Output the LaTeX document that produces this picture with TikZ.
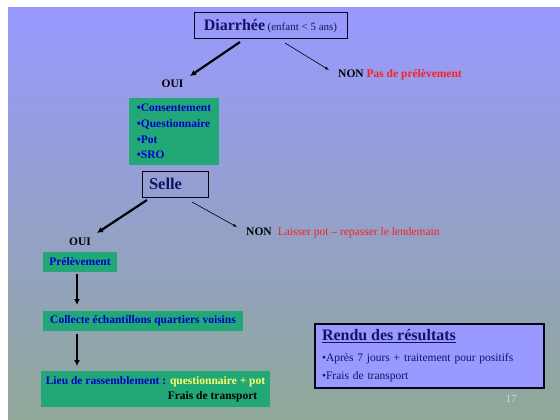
\documentclass[tikz,border=0pt]{standalone}
\usepackage{fontspec}
\setmainfont{Liberation Serif}
\usetikzlibrary{arrows.meta,calc}

\definecolor{bgtop}{RGB}{153,153,255}
\definecolor{bgmid}{RGB}{150,157,222}
\definecolor{bgbot}{RGB}{143,168,152}
\definecolor{boxgreen}{RGB}{34,168,119}
\definecolor{boxblue}{RGB}{153,153,255}
\definecolor{navy}{RGB}{20,20,100}
\definecolor{itemblue}{RGB}{0,0,204}
\definecolor{alertred}{RGB}{255,30,30}
\definecolor{paleyellow}{RGB}{255,255,102}
\definecolor{pagenum}{RGB}{205,218,212}

\tikzset{
  titlebox/.style={draw=black!80!navy, line width=1pt, text=navy, inner sep=0pt},
  greenbox/.style={fill=boxgreen, text=itemblue, font=\fontsize{11.5}{15.7}\selectfont\bfseries, inner sep=0pt},
  answer/.style={font=\fontsize{11.5}{14}\selectfont\bfseries, inner sep=0pt},
  bigarrow/.style={-{Latex[length=6pt,width=6pt]}, line width=2.2pt},
  thinarrow/.style={-{Latex[length=4pt,width=3pt]}, line width=0.6pt},
}

\begin{document}
\begin{tikzpicture}[x=1pt,y=-1pt]
    \useasboundingbox (0,0) rectangle (560,420);
    % Background
    \shade[top color=bgtop, middle color=bgmid, bottom color=bgbot] (8,8) rectangle (560,420);
    % Questions
    \node[titlebox, minimum width=153pt, minimum height=26pt] (diar) at (270.5,26)
      {{\fontsize{16}{18}\selectfont\bfseries Diarrhée} {\fontsize{11}{13}\selectfont (enfant < 5 ans)}};
    \node[titlebox, minimum height=26pt, inner xsep=7pt, text width=52pt, align=left,
      font=\fontsize{16.5}{18}\selectfont\bfseries] (selle) at (175,184) {Selle};
    % Answers
    \node[answer] (oui1) at (172.5,84) {OUI};
    \node[answer, anchor=west] (non1) at (338,75) {NON \textcolor{alertred}{Pas de prélèvement}};
    \node[answer] (oui2) at (80,242) {OUI};
    \node[answer, anchor=west] (non2) at (246,233)
      {NON\hspace{6pt}\textcolor{alertred}{\mdseries Laisser pot – repasser le lendemain}};
    % Steps
    \node[greenbox, minimum width=90pt, minimum height=67pt, align=left] (items) at (174,131.5)
      {•Consentement\\•Questionnaire\\•Pot\\•SRO};
    \node[greenbox, minimum width=74pt, minimum height=20pt] (prel) at (80,262) {Prélèvement};
    \node[greenbox, minimum width=200pt, minimum height=20pt] (coll) at (143,321)
      {Collecte échantillons quartiers voisins};
    \node[greenbox, minimum width=229pt, minimum height=36pt] (lieu) at (155.5,389)
      {\begin{tabular}{@{}l@{}}Lieu de rassemblement : \textcolor{paleyellow}{questionnaire + pot}\\
       \hfill\textcolor{black}{Frais de transport}\hspace*{8pt}\end{tabular}};
    % Results
    \node[titlebox, fill=boxblue, line width=1.2pt, minimum width=229pt, minimum height=64pt,
      text width=215pt, align=left, font=\fontsize{11.5}{18}\selectfont] (rendu) at (429.5,356)
      {{\fontsize{16}{18}\selectfont\bfseries\underline{Rendu des résultats}}\\[3pt]
       •Après 7 jours + traitement pour positifs\\
       •Frais de transport};
    \node[font=\fontsize{11}{13}\selectfont, text=pagenum, inner sep=0pt] (page) at (511,399) {17};
    % Arrows
    \draw[bigarrow] ($(diar)+(-30.5,16)$) -- ($(oui1)+(17.5,-8)$);
    \draw[thinarrow] ($(diar)+(14.5,17)$) -- ($(non1.west)+(-9,-5)$);
    \draw[bigarrow] ($(selle)+(-28,16)$) -- ($(oui2)+(17,-9)$);
    \draw[thinarrow] ($(selle)+(17,18)$) -- ($(non2.west)+(-9,-6)$);
    \draw[bigarrow] ($(prel)+(-3,12)$) -- ($(coll)+(-66,-16)$);
    \draw[bigarrow] ($(coll)+(-66,13)$) -- ($(lieu)+(-78.5,-23)$);
\end{tikzpicture}
\end{document}
